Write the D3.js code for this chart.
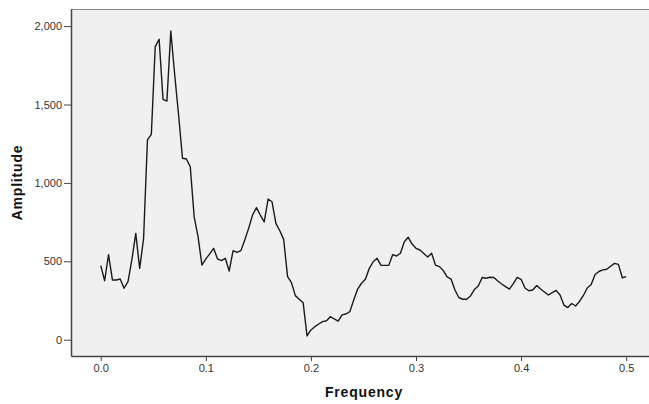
<!DOCTYPE html>
<html>
<head>
<meta charset="utf-8">
<script src="https://cdn.jsdelivr.net/npm/d3@7"></script>
<style>
    html, body { margin: 0; padding: 0; background: #fff; }
    svg { display: block; font-family: "Liberation Sans", Arial, sans-serif; }
    .tick text { fill: #333; font-size: 11px; }
    .title { font-weight: bold; font-size: 14px; letter-spacing: 0.8px; fill: #111; }
</style>
</head>
<body>
<svg id="chart" width="649" height="404"></svg>
<script>
// spectrum: amplitude read at each frequency bin (bin k -> k / nBins)
const nBins = 270;
const amplitude = [
    472, 376, 542, 381, 381, 387, 328, 370, 510, 678,
    455, 642, 1274, 1310, 1869, 1916, 1533, 1522, 1969, 1690,
    1433, 1157, 1152, 1103, 784, 657, 476, 515, 547, 583,
    515, 504, 519, 438, 568, 557, 568, 636, 710, 795,
    842, 795, 751, 897, 880, 742, 695, 640, 402, 364,
    281, 258, 236, 24, 62, 83, 100, 115, 121, 147,
    132, 119, 158, 164, 179, 253, 323, 360, 385, 455,
    497, 519, 474, 474, 474, 542, 534, 551, 625, 653,
    610, 583, 572, 550, 527, 551, 476, 466, 441, 400,
    387, 317, 269, 258, 258, 279, 320, 342, 397, 392,
    398, 397, 374, 355, 339, 323, 358, 398, 385, 330,
    312, 317, 346, 323, 304, 285, 300, 314, 285, 221,
    205, 231, 215, 244, 282, 330, 352, 416, 435, 445,
    449, 468, 487, 480, 395, 402
];
const xTicks = [0, 0.1, 0.2, 0.3, 0.4, 0.5];
const yTicks = [0, 500, 1000, 1500, 2000];

const margin = { l: 71, t: 9, r: 0, b: 48 };

const svg    = d3.select('#chart');
const width  = +svg.attr('width');
const height = +svg.attr('height');

const l = margin.l;
const r = width - margin.r;
const t = margin.t;
const b = height - margin.b;

const xScale = d3.scaleLinear().domain([-0.0283, 0.5217]).range([l, r]);
const yScale = d3.scaleLinear().domain([-104, 2109]).range([b, t]);

// plot background
svg.append('rect')
    .attr('x', l).attr('y', t)
    .attr('width', r - l).attr('height', b - t)
    .attr('fill', '#f0f0f0');

svg.append('line')
    .attr('x1', l).attr('x2', r)
    .attr('y1', t + 0.5).attr('y2', t + 0.5)
    .attr('stroke', '#888');

const xAxis = d3.axisBottom(xScale)
    .tickValues(xTicks)
    .tickFormat(d3.format('.1f'))
    .tickSizeInner(5).tickSizeOuter(0).tickPadding(3);
const yAxis = d3.axisLeft(yScale)
    .tickValues(yTicks)
    .tickFormat(d3.format(','))
    .tickSizeInner(7).tickSizeOuter(0).tickPadding(2);

const gx = svg.append('g')
    .attr('transform', `translate(0,${b})`)
    .call(xAxis);
const gy = svg.append('g')
    .attr('transform', `translate(${l},0)`)
    .call(yAxis);

[gx, gy].forEach(g => {
    g.select('.domain').attr('stroke', '#444').attr('stroke-width', 1.5);
    g.selectAll('.tick line').attr('stroke', '#444');
    g.selectAll('.tick text').attr('font-family', null).attr('font-size', null);
});

const line = d3.line()
    .x((d, i) => xScale(i / nBins))
    .y(d => yScale(d));

svg.append('path')
    .datum(amplitude)
    .attr('d', line)
    .attr('fill', 'none')
    .attr('stroke', '#1a1a1a')
    .attr('stroke-width', 1.4)
    .attr('stroke-linejoin', 'round');

svg.append('text')
    .attr('class', 'title')
    .attr('x', 364).attr('y', 397)
    .attr('text-anchor', 'middle')
    .text('Frequency');

svg.append('text')
    .attr('class', 'title')
    .attr('transform', `translate(22,${(t + b) / 2}) rotate(-90)`)
    .attr('text-anchor', 'middle')
    .text('Amplitude');
</script>
</body>
</html>
